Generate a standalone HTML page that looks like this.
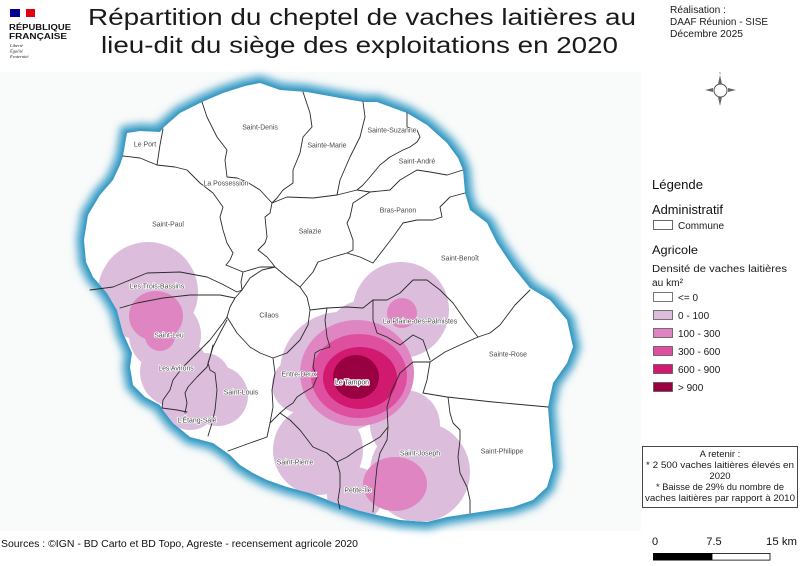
<!DOCTYPE html>
<html><head><meta charset="utf-8">
<style>
html,body{margin:0;padding:0;background:#fff;}
svg{display:block;}
text{font-family:"Liberation Sans",sans-serif;}
.lab{font-size:6.9px;fill:#4a4a4a;text-anchor:middle;dominant-baseline:central;stroke:#fff;stroke-width:1.6px;paint-order:stroke;stroke-linejoin:round;}
.b{fill:none;stroke:#2b2b2b;stroke-width:0.9;stroke-linejoin:round;stroke-linecap:round;}
.lg{font-size:10px;fill:#1a1a1a;}
</style></head><body>
<svg width="800" height="566" viewBox="0 0 800 566" xmlns="http://www.w3.org/2000/svg">
<defs>
<path id="isl" d="M123,156 L127,133 L140,131 L160,132 L164,127 L180,113 L202,102 L223,93 L245,86 L260,83 L280,90 L307,92 L340,98 L363,102 L377,102 L407,113 L427,125 L447,143 L458,158 L463,170 L465,193 L470,210 L487,223 L497,243 L513,267 L530,288 L550,300 L567,320 L573,347 L567,363 L553,383 L548,407 L550,433 L553,467 L547,487 L533,500 L513,507 L493,510 L473,513 L447,517 L427,522 L400,520 L377,515 L357,510 L333,502 L310,493 L287,487 L267,480 L253,473 L240,465 L230,455 L213,443 L190,437 L173,423 L163,410 L160,405 L145,397 L133,385 L130,367 L132,353 L123,333 L117,310 L107,293 L93,277 L86,262 L84,240 L88,215 L100,195 L113,180 L120,165 Z"/>
<clipPath id="clip"><use href="#isl"/></clipPath>
<filter id="gl" x="-20%" y="-20%" width="140%" height="140%"><feGaussianBlur stdDeviation="4"/></filter>
<filter id="gl2" x="-20%" y="-20%" width="140%" height="140%"><feGaussianBlur stdDeviation="1.2"/></filter>
</defs>

<!-- map frame -->
<rect x="0" y="72" width="641" height="459" fill="#f9fafa"/>

<!-- glow -->
<use href="#isl" fill="none" stroke="#45a3c9" stroke-width="15" filter="url(#gl)"/>
<use href="#isl" fill="none" stroke="#3a98c2" stroke-width="4" filter="url(#gl2)"/>
<use href="#isl" fill="#ffffff"/>

<!-- density -->
<g clip-path="url(#clip)">
 <g fill="#dcbedc">
  <circle cx="148" cy="292" r="50"/>
  <circle cx="165" cy="335" r="36"/>
  <circle cx="175" cy="372" r="35"/>
  <circle cx="190" cy="402" r="28"/>
  <circle cx="218" cy="396" r="30"/>
  <circle cx="205" cy="378" r="25"/>
  <circle cx="401" cy="310" r="48"/>
  <circle cx="340" cy="372" r="60"/>
  <circle cx="300" cy="385" r="28"/>
  <circle cx="318" cy="450" r="45"/>
  <circle cx="420" cy="472" r="50"/>
  <circle cx="405" cy="425" r="35"/>
  <circle cx="355" cy="495" r="28"/>
  <circle cx="365" cy="340" r="40"/>
 </g>
 <g fill="#df86c2">
  <ellipse cx="156" cy="316" rx="27" ry="25"/>
  <circle cx="160" cy="336" r="15"/>
  <circle cx="402" cy="313" r="15"/>
  <ellipse cx="395" cy="484" rx="32" ry="27"/>
  <ellipse cx="357" cy="373" rx="57" ry="53"/>
 </g>
 <ellipse cx="359" cy="376" rx="48" ry="42" fill="#df4f9f"/>
 <ellipse cx="360" cy="378" rx="37" ry="31" fill="#d0196f"/>
 <ellipse cx="356" cy="377" rx="23" ry="22" fill="#990041"/>
</g>

<!-- boundaries -->
<g class="b">
<polyline points="163,129 160,145 157,165"/>
<polyline points="123,156 140,158 157,165"/>
<polyline points="157,165 175,167 187,170 200,183 213,193 223,207 220,217 223,230 227,243 233,253 230,260 226,265"/>
<polyline points="202,102 207,117 217,137 227,150 225,160 227,177 237,178 247,182 260,190 272,203"/>
<polyline points="303,92 310,113 312,127 303,137 300,153 293,170 293,183 283,190 277,198 272,203"/>
<polyline points="272,203 287,197 313,198 337,195 357,190 370,192"/>
<polyline points="363,102 365,117 360,137 350,157 340,180 337,195"/>
<polyline points="407,113 407,127 417,130 420,137 417,142 410,147 403,150 390,157 380,165 370,177 363,185 357,190"/>
<polyline points="463,170 447,175 430,172 417,170 400,180 390,190 370,192"/>
<polyline points="370,192 353,203 350,217 347,223 353,240 353,250 347,253"/>
<polyline points="465,193 450,197 440,207 442,217 433,220 417,220 403,223 393,237 383,250 373,263 360,257 347,253"/>
<polyline points="272,203 270,213 265,217 267,237 265,243 258,250 267,257 272,263 275,267"/>
<polyline points="226,265 243,272 260,267 275,267"/>
<polyline points="243,272 241,282 242,290"/>
<polygon points="242,290 235,298 230,307 227,317 237,333 250,347 260,353 273,358 287,353 300,340 308,325 310,310 307,297 300,287 287,277 275,267 262,270 250,278"/>
<polyline points="300,287 313,272 318,262 333,257 347,253"/>
<polyline points="310,310 327,308 347,307 363,308 373,300 387,300 400,293 413,280 427,280 440,290 453,303 467,323 478,337"/>
<polyline points="373,300 373,320 377,333 387,337 400,345 413,335 423,340 430,360"/>
<polyline points="478,337 490,333 500,325 515,305 530,290"/>
<polyline points="478,337 460,345 445,352 430,362"/>
<polyline points="430,362 427,380 423,393"/>
<polyline points="423,393 447,397 493,402 548,407"/>
<polyline points="448,397 450,413 453,423 460,430 460,440 458,457 460,473 467,487 470,500 470,513"/>
<polyline points="430,362 413,362 400,373 392,390 387,407 388,427 387,440 380,453 377,467 375,487 373,512"/>
<polyline points="327,308 325,320 327,337 330,347 320,350 315,353 313,367 317,377 313,387 303,393 297,397 293,403 287,407 280,413"/>
<polyline points="273,358 275,373 272,390 273,407 270,423 267,437"/>
<polyline points="228,451 250,443 267,437"/>
<polyline points="280,413 270,423"/>
<polyline points="280,413 290,420 300,430 313,447 327,453 337,462 347,457 357,450 370,443 380,437 388,427"/>
<polyline points="337,462 340,473 340,487 338,500 340,509"/>
<polyline points="90,290 113,287 147,273 180,272 207,277 222,284 237,292 242,290"/>
<polyline points="120,308 137,303 163,298 190,295 220,295 230,297 235,298"/>
<polyline points="227,317 223,323 210,340 197,353 183,367 173,380 170,390 163,400 162,408"/>
<polyline points="227,320 220,333 213,347 210,357 207,367 197,377 188,387 185,393 187,403 185,413"/>
<polyline points="162,408 177,410 187,412"/>
<polyline points="213,345 210,357 208,363 210,370 215,373 217,390 215,410 212,423 208,436"/>
</g>

<!-- labels -->
<g>
<text class="lab" x="145" y="145">Le Port</text>
<text class="lab" x="260" y="128">Saint-Denis</text>
<text class="lab" x="327" y="146">Sainte-Marie</text>
<text class="lab" x="392" y="131">Sainte-Suzanne</text>
<text class="lab" x="417" y="162">Saint-André</text>
<text class="lab" x="226" y="184">La Possession</text>
<text class="lab" x="398" y="211">Bras-Panon</text>
<text class="lab" x="168" y="225">Saint-Paul</text>
<text class="lab" x="310" y="232">Salazie</text>
<text class="lab" x="460" y="259">Saint-Benoît</text>
<text class="lab" x="157" y="287">Les Trois-Bassins</text>
<text class="lab" x="269" y="316">Cilaos</text>
<text class="lab" x="420" y="322">La Plaine-des-Palmistes</text>
<text class="lab" x="169" y="336">Saint-Leu</text>
<text class="lab" x="508" y="355">Sainte-Rose</text>
<text class="lab" x="176" y="369">Les Avirons</text>
<text class="lab" x="299" y="375">Entre-Deux</text>
<text class="lab" x="352" y="383" style="fill:#333;stroke-width:2.4px;">Le Tampon</text>
<text class="lab" x="241" y="393">Saint-Louis</text>
<text class="lab" x="197" y="421">L'Étang-Salé</text>
<text class="lab" x="502" y="452">Saint-Philippe</text>
<text class="lab" x="420" y="454">Saint-Joseph</text>
<text class="lab" x="295" y="463">Saint-Pierre</text>
<text class="lab" x="358" y="491">Petite-Île</text>
</g>

<!-- logo -->
<rect x="10" y="9" width="10" height="8" fill="#000091"/>
<rect x="20" y="9" width="6" height="8" fill="#ffffff"/>
<rect x="26" y="9" width="9" height="8" fill="#e1000f"/>
<text x="9" y="30" font-size="8.6" font-weight="bold" fill="#111" textLength="62" lengthAdjust="spacingAndGlyphs">RÉPUBLIQUE</text>
<text x="9" y="39" font-size="8.6" font-weight="bold" fill="#111" textLength="58" lengthAdjust="spacingAndGlyphs">FRANÇAISE</text>
<text x="10" y="47" font-size="4.5" font-style="italic" fill="#222" style="font-family:'Liberation Serif',serif">Liberté</text>
<text x="10" y="52.5" font-size="4.5" font-style="italic" fill="#222" style="font-family:'Liberation Serif',serif">Égalité</text>
<text x="10" y="58" font-size="4.5" font-style="italic" fill="#222" style="font-family:'Liberation Serif',serif">Fraternité</text>

<!-- title -->
<text x="88" y="25" font-size="23" fill="#1a1a1a" textLength="548" lengthAdjust="spacingAndGlyphs">Répartition du cheptel de vaches laitières au</text>
<text x="101" y="53" font-size="23" fill="#1a1a1a" textLength="517" lengthAdjust="spacingAndGlyphs">lieu-dit du siège des exploitations en 2020</text>

<!-- top right -->
<text x="670" y="13" font-size="10" fill="#1a1a1a" textLength="56" lengthAdjust="spacingAndGlyphs">Réalisation :</text>
<text x="670" y="25" font-size="10" fill="#1a1a1a" textLength="98" lengthAdjust="spacingAndGlyphs">DAAF Réunion - SISE</text>
<text x="670" y="37" font-size="10" fill="#1a1a1a" textLength="73" lengthAdjust="spacingAndGlyphs">Décembre 2025</text>

<!-- compass -->
<g fill="#666" stroke="none">
 <polygon points="720,75 718,84 722,84"/>
 <polygon points="720,106 718,97 722,97"/>
 <polygon points="705,90 713,88 713,92"/>
 <polygon points="736,90 728,88 728,92"/>
</g>
<circle cx="720.5" cy="90.5" r="6.5" fill="none" stroke="#555" stroke-width="1"/>
<text x="720" y="74" font-size="2.5" fill="#555" text-anchor="middle">N</text>

<!-- legend -->
<text x="652" y="189" font-size="12.5" fill="#111" textLength="51" lengthAdjust="spacingAndGlyphs">Légende</text>
<text x="652" y="214" font-size="12.5" fill="#111" textLength="71" lengthAdjust="spacingAndGlyphs">Administratif</text>
<rect x="653.5" y="220.5" width="19" height="9" fill="#fff" stroke="#444" stroke-width="0.8"/>
<text class="lg" x="678" y="229" textLength="46" lengthAdjust="spacingAndGlyphs">Commune</text>
<text x="652" y="254" font-size="12" fill="#111" textLength="46" lengthAdjust="spacingAndGlyphs">Agricole</text>
<text class="lg" x="652" y="272" textLength="135" lengthAdjust="spacingAndGlyphs">Densité de vaches laitières</text>
<text class="lg" x="652" y="286" textLength="31" lengthAdjust="spacingAndGlyphs">au km²</text>
<g stroke="#555" stroke-width="0.8">
<rect x="653.5" y="292.5" width="19" height="9" fill="#ffffff"/>
<rect x="653.5" y="310.5" width="19" height="9" fill="#dcbedc"/>
<rect x="653.5" y="328.5" width="19" height="9" fill="#df86c2"/>
<rect x="653.5" y="346.5" width="19" height="9" fill="#df4f9f"/>
<rect x="653.5" y="364.5" width="19" height="9" fill="#d0196f"/>
<rect x="653.5" y="382.5" width="19" height="9" fill="#990041"/>
</g>
<text class="lg" x="678" y="301">&lt;= 0</text>
<text class="lg" x="678" y="319">0 - 100</text>
<text class="lg" x="678" y="337">100 - 300</text>
<text class="lg" x="678" y="355">300 - 600</text>
<text class="lg" x="678" y="373">600 - 900</text>
<text class="lg" x="678" y="391">&gt; 900</text>

<!-- A retenir -->
<rect x="642.5" y="446.5" width="155" height="61" fill="#fff" stroke="#333" stroke-width="0.9"/>
<g font-size="9.5" fill="#1a1a1a" text-anchor="middle">
<text x="720" y="457">A retenir :</text>
<text x="720" y="468" textLength="148" lengthAdjust="spacingAndGlyphs">* 2 500 vaches laitières élevés en</text>
<text x="720" y="479">2020</text>
<text x="720" y="490" textLength="128" lengthAdjust="spacingAndGlyphs">* Baisse de 29% du nombre de</text>
<text x="720" y="501" textLength="150" lengthAdjust="spacingAndGlyphs">vaches laitières par rapport à 2010</text>
</g>

<!-- scale bar -->
<text x="652" y="545" font-size="11" fill="#111">0</text>
<text x="714" y="545" font-size="11" fill="#111" text-anchor="middle">7.5</text>
<text x="797" y="545" font-size="11" fill="#111" text-anchor="end" textLength="31" lengthAdjust="spacingAndGlyphs">15 km</text>
<rect x="653" y="553" width="59" height="7.5" fill="#000"/>
<rect x="712" y="553.4" width="58" height="6.7" fill="#fff" stroke="#000" stroke-width="0.8"/>

<!-- sources -->
<text x="1" y="547" font-size="10" fill="#111" textLength="357" lengthAdjust="spacingAndGlyphs">Sources : ©IGN - BD Carto et BD Topo, Agreste - recensement agricole 2020</text>
</svg>
</body></html>
